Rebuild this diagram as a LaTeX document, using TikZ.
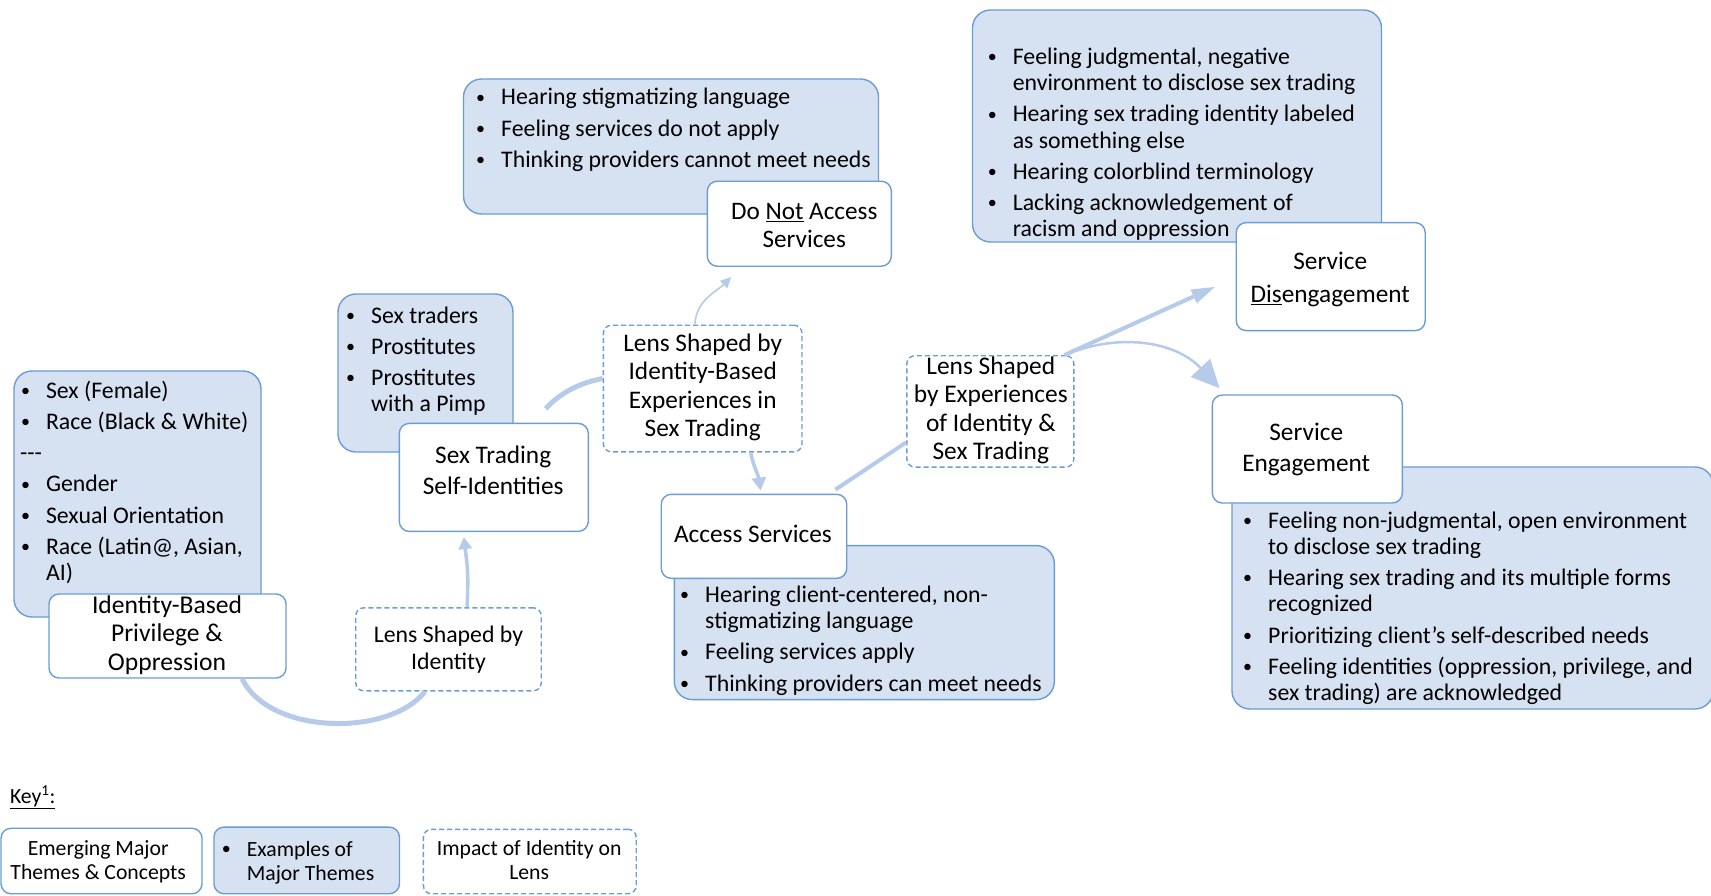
\documentclass[tikz,border=0pt]{standalone}
\usepackage{fontspec}
\setmainfont{Carlito}
\usetikzlibrary{arrows.meta}
\definecolor{bdr}{RGB}{106,156,214}
\definecolor{bfill}{RGB}{214,225,241}
\definecolor{arw}{RGB}{182,202,234}
\newcommand\fstr{\rule{0pt}{20pt}}
\newcommand\bmark{\makebox[26pt][l]{\hspace*{1pt}\raisebox{1.8pt}{\fontsize{18}{18}\selectfont\textbullet}}}
\newcommand\bi[1]{\hbox{\bmark#1}}
\newcommand\bc[1]{\hbox{\hspace*{26pt}#1}}
\newcommand\gap{\vskip5pt}
\newcommand\lst[1]{\vbox{#1}}
\begin{document}
\begin{tikzpicture}[x=1pt,y=-1pt,
 bluebox/.style={draw=bdr, fill=bfill, line width=1.4pt, rounded corners=18pt, inner sep=0pt},
 whitebox/.style={draw=bdr, fill=white, line width=1.4pt, rounded corners=10pt, inner sep=0pt},
 dashbox/.style={draw=bdr, fill=white, line width=1.4pt, dash pattern=on 5pt off 3pt, rounded corners=8pt, inner sep=0pt},
 listtxt/.style={inner sep=0pt, anchor=north west, font=\fontsize{23.8}{26.2}\selectfont},
 ctxt/.style={inner sep=0pt, anchor=north, align=center},
 conn/.style={draw=arw, line width=5pt},
]
\useasboundingbox (0,0) rectangle (1711,895);

% blue example boxes
\node[bluebox, minimum width=247pt, minimum height=246pt] (b1) at (137.5,494) {};
\node[bluebox, minimum width=175pt, minimum height=158pt] (b3) at (425.5,373) {};
\node[bluebox, minimum width=415pt, minimum height=135pt] (b6) at (671,146.5) {};
\node[bluebox, minimum width=380pt, minimum height=154pt] (b10) at (864.3,622.6) {};
\node[bluebox, minimum width=409pt, minimum height=232pt] (b12) at (1177,126) {};
\node[bluebox, minimum width=481pt, minimum height=242pt] (b15) at (1472.5,588) {};

% list texts
\node[listtxt] (b1t) at (19.8,378) {\lst{\bi{\fstr Sex (Female)}\gap\bi{Race (Black \& White)}\gap\hbox{{-}{-}{-}}\gap\bi{Gender}\gap\bi{Sexual Orientation}\gap\bi{Race (Latin@, Asian,}\bc{AI)}}};
\node[listtxt] (b3t) at (345,303) {\lst{\bi{\fstr Sex traders}\gap\bi{Prostitutes}\gap\bi{Prostitutes}\bc{with a Pimp}}};
\node[listtxt] (b6t) at (475,84.6) {\lst{\bi{\fstr Hearing stigmatizing language}\gap\bi{Feeling services do not apply}\gap\bi{Thinking providers cannot meet needs}}};
\node[listtxt] (b10t) at (679,582.2) {\lst{\bi{\fstr Hearing client-centered, non-}\bc{stigmatizing language}\gap\bi{Feeling services apply}\gap\bi{Thinking providers can meet needs}}};
\node[listtxt] (b12t) at (986.6,44.2) {\lst{\bi{\fstr Feeling judgmental, negative}\bc{environment to disclose sex trading}\gap\bi{Hearing sex trading identity labeled}\bc{as something else}\gap\bi{Hearing colorblind terminology}\gap\bi{Lacking acknowledgement of}\bc{racism and oppression}}};
\node[listtxt] (b15t) at (1242,508) {\lst{\bi{\fstr Feeling non-judgmental, open environment}\bc{to disclose sex trading}\gap\bi{Hearing sex trading and its multiple forms}\bc{recognized}\gap\bi{Prioritizing client’s self-described needs}\gap\bi{Feeling identities (oppression, privilege, and}\bc{sex trading) are acknowledged}}};

% white theme boxes
\node[whitebox, minimum width=237pt, minimum height=84pt] (w1) at (167.5,636) {};
\node[whitebox, minimum width=189pt, minimum height=108pt] (w4) at (493.8,477.4) {};
\node[whitebox, minimum width=184pt, minimum height=85pt] (w7) at (799.3,223.7) {};
\node[whitebox, minimum width=185.5pt, minimum height=84pt] (w9) at (754,536.3) {};
\node[whitebox, minimum width=189pt, minimum height=108pt] (w13) at (1330.7,276.6) {};
\node[whitebox, minimum width=190pt, minimum height=108pt] (w14) at (1307.3,449) {};

% dashed lens boxes
\node[dashbox, minimum width=185.5pt, minimum height=83pt] (d5) at (448.5,649.3) {};
\node[dashbox, minimum width=198.6pt, minimum height=126.6pt] (d8) at (702.7,388.5) {};
\node[dashbox, minimum width=167pt, minimum height=111.3pt] (d11) at (990.3,411.4) {};

% centred texts
\node[ctxt, font=\fontsize{25.6}{28.4}\selectfont] (w1t) at (167,593.1) {\fstr Identity-Based\\Privilege \&\\Oppression};
\node[ctxt, font=\fontsize{25.3}{30.6}\selectfont] (w4t) at (493.2,443.6) {\fstr Sex Trading\\Self-Identities};
\node[ctxt, font=\fontsize{23.8}{26.2}\selectfont] (d5t) at (448.5,622.6) {\fstr Lens Shaped by\\Identity};
\node[ctxt, font=\fontsize{25.2}{28.4}\selectfont] (w7t) at (804.2,199.2) {\fstr Do \underline{Not} Access\\Services};
\node[ctxt, font=\fontsize{25.3}{28.4}\selectfont] (d8t) at (702.7,331.2) {\fstr Lens Shaped by\\Identity-Based\\Experiences in\\Sex Trading};
\node[ctxt, font=\fontsize{25.3}{28.4}\selectfont] (w9t) at (752.9,522.2) {\fstr Access Services};
\node[ctxt, font=\fontsize{25.4}{28.4}\selectfont] (d11t) at (990.8,354.1) {\fstr Lens Shaped\\by Experiences\\of Identity \&\\Sex Trading};
\node[ctxt, font=\fontsize{25.3}{32.7}\selectfont] (w13t) at (1330.2,249.4) {\fstr Service\\\underline{Dis}engagement};
\node[ctxt, font=\fontsize{25.3}{30.6}\selectfont] (w14t) at (1306.2,420.7) {\fstr Service\\Engagement};

% connectors
\draw[conn] ([xshift=74.5pt]w1.south) .. controls +(28,57) and +(-35,45) .. ([xshift=-23.5pt]d5.south);
\draw[conn, line width=3.5pt, -{Triangle[length=12pt,width=13pt]}] ([xshift=18.5pt]d5.north) .. controls +(2,-35) and +(3,25) .. ([xshift=-30pt,yshift=-5pt]w4.south);
\draw[conn] ([xshift=52pt,yshift=14pt]w4.north) .. controls +(14,-16) and +(-22,4) .. ([yshift=10pt]d8.west);
\draw[conn, line width=1.6pt, -{Triangle[length=11pt,width=10pt]}] ([xshift=-8pt]d8.north) .. controls +(2,-25) and +(-15,15) .. ([xshift=-68pt,yshift=-10pt]w7.south);
\draw[conn, line width=3.5pt, -{Triangle[length=13pt,width=14pt]}] ([xshift=48pt]d8.south) .. controls +(3,15) and +(-2,-15) .. ([xshift=6.6pt,yshift=3pt]w9.north);
\draw[conn, line width=4pt] ([xshift=-12pt,yshift=4pt]w9.north east) -- ([yshift=-31pt]d11.west);
\draw[conn, line width=4pt, -{Triangle[length=24pt,width=14pt]}] ([xshift=-10pt]d11.north east) -- ([xshift=-20pt,yshift=-10pt]w13.west);
\draw[conn, line width=2.5pt, -{Triangle[length=28pt,width=26pt]}] ([xshift=1pt,yshift=4pt]d11.north east) .. controls +(45,-16) and +(-45,-48) .. ([xshift=8pt,yshift=6pt]w14.north west);

% key
\node[anchor=north west, inner sep=0pt, font=\fontsize{21.7}{24}\selectfont] (keylbl) at (9.8,783) {\fstr\underline{Key\textsuperscript{1}:}};
\node[whitebox, minimum width=201pt, minimum height=65.5pt] (kw) at (101.5,861) {};
\node[bluebox, rounded corners=10pt, minimum width=185.5pt, minimum height=66.6pt] (kb) at (306.7,860.4) {};
\node[dashbox, minimum width=212.8pt, minimum height=64.4pt] (kd) at (529.8,861.5) {};
\node[ctxt, font=\fontsize{21.7}{24}\selectfont] (kwt) at (98.2,835.4) {\fstr Emerging Major\\Themes \& Concepts};
\node[listtxt, font=\fontsize{21.7}{24}\selectfont] (kbt) at (220.6,836.5) {\lst{\bi{\fstr Examples of}\bc{Major Themes}}};
\node[ctxt, font=\fontsize{21.7}{24}\selectfont] (kdt) at (529.2,835.4) {\fstr Impact of Identity on\\Lens};
\end{tikzpicture}
\end{document}
